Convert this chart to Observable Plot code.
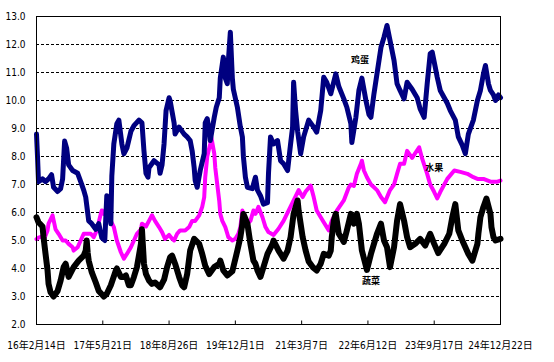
<!DOCTYPE html>
<html><head><meta charset="utf-8">
<script src="https://cdn.jsdelivr.net/npm/d3@7"></script>
<script src="https://cdn.jsdelivr.net/npm/@observablehq/plot@0.6"></script>
<style>html,body{margin:0;padding:0;background:#fff} svg{display:block}</style>
</head><body><div id="chart"></div>
<script>
// x positions are weeks since 2016-02-14 (category axis, tick every 66 weeks)
const xTickWeeks = [0, 66, 132, 198, 264, 330, 396, 462];
const xTickLabels = ["16年2月14日", "17年5月21日", "18年8月26日", "19年12月1日", "21年3月7日", "22年6月12日", "23年9月17日", "24年12月22日"];
const yTicks = [2,3,4,5,6,7,8,9,10,11,12,13];
const gridValues = [3,4,5,6,7,8,9,10,11,12];

// 鸡蛋 [week, price]
const eggSeries = [[0,8.8],[1,8.0],[2,7.1],[6,7.2],[9,7.1],[12,7.2],[15,7.35],[17,6.9],[21,6.75],[24,6.85],[26,7.2],[28,8.55],[30,8.3],[32,7.7],[36,7.5],[41,7.4],[44,7.1],[47,6.8],[49,6.55],[52,5.7],[55,5.6],[59,5.4],[62,5.6],[65,5.1],[68,5.0],[70,6.6],[72,6.3],[74,5.6],[75,7.3],[77,8.45],[80,9.17],[82,9.3],[85,8.45],[87,8.1],[90,8.3],[94,8.9],[97,9.1],[102,9.3],[105,9.2],[107,8.2],[109,7.4],[111,7.26],[112,7.6],[117,7.85],[122,7.7],[123,7.4],[125,7.7],[127,8.45],[129,9.64],[132,10.1],[133,10.0],[135,9.6],[137,9.2],[138,8.8],[142,9.05],[147,8.8],[150,8.7],[153,8.57],[155,8.2],[157,7.6],[158,7.14],[160,6.9],[163,7.5],[167,8.1],[168,9.2],[170,9.35],[172,8.9],[173,8.57],[177,9.4],[179,9.76],[182,10.1],[183,10.8],[185,11.3],[186,11.55],[188,10.8],[190,10.6],[191,11.4],[193,12.44],[195,10.8],[196,10.4],[200,9.76],[203,9.05],[205,8.7],[206,8.0],[208,7.26],[210,6.9],[215,6.85],[216,7.0],[218,7.26],[220,6.8],[223,6.6],[226,6.3],[230,6.35],[231,7.4],[233,8.7],[236,8.45],[240,8.57],[243,7.85],[246,7.74],[250,7.5],[253,8.45],[255,9.05],[256,10.65],[258,9.64],[260,8.9],[263,8.1],[266,8.7],[271,9.3],[276,9.05],[279,8.87],[283,9.64],[286,10.83],[289,10.65],[293,10.24],[298,10.95],[301,10.5],[306,10.06],[309,9.76],[313,9.17],[314,8.5],[318,9.4],[321,10.36],[324,10.8],[328,10.0],[331,9.5],[333,9.4],[336,10.24],[339,10.95],[343,11.9],[346,12.26],[349,12.68],[352,12.14],[356,11.43],[359,10.6],[362,10.36],[366,10.06],[369,10.65],[374,10.4],[379,10.1],[382,9.7],[386,9.4],[389,10.6],[392,11.67],[394,11.73],[397,11.2],[399,10.83],[402,10.36],[406,10.1],[409,9.9],[412,9.64],[417,9.3],[420,8.7],[424,8.4],[427,8.1],[430,8.8],[434,9.2],[435,9.3],[439,10.0],[442,10.36],[445,10.95],[447,11.25],[450,10.6],[452,10.36],[455,10.2],[457,10.0],[460,10.2],[462,10.1]];

// 水果 [week, price]
const fruitSeries = [[0,5.05],[2,5.1],[6,5.15],[7,5.0],[11,5.36],[12,5.6],[16,5.9],[19,5.4],[22,5.24],[26,5.0],[29,5.0],[32,4.88],[36,4.76],[37,4.64],[41,4.76],[44,5.0],[47,5.24],[50,5.24],[54,5.24],[57,5.12],[60,5.36],[64,5.95],[65,6.07],[67,5.95],[70,6.2],[74,5.7],[77,5.48],[80,5.0],[84,4.58],[87,4.35],[90,4.52],[94,4.76],[97,5.0],[100,5.24],[104,5.4],[105,5.6],[109,5.5],[112,5.7],[115,5.9],[118,5.7],[122,5.48],[125,5.3],[128,5.06],[132,5.2],[135,5.06],[137,5.0],[140,5.24],[143,5.36],[148,5.36],[152,5.48],[155,5.7],[158,5.7],[162,5.9],[163,6.0],[165,6.2],[167,6.55],[168,7.26],[170,8.0],[173,8.45],[174,8.7],[177,8.1],[178,7.6],[180,7.0],[182,6.4],[183,5.95],[185,5.7],[188,5.48],[190,5.24],[191,5.12],[195,5.0],[198,5.06],[201,5.24],[203,5.48],[205,6.07],[208,5.7],[210,5.6],[213,5.7],[216,6.07],[218,5.95],[221,6.2],[225,5.83],[228,5.48],[231,5.3],[236,5.2],[241,5.42],[246,5.7],[251,6.07],[256,6.43],[261,6.8],[265,6.55],[268,6.75],[273,6.96],[276,6.55],[279,6.07],[283,5.83],[286,5.65],[291,5.36],[294,5.7],[299,6.07],[306,6.43],[311,6.9],[313,7.0],[316,6.95],[319,7.38],[323,7.74],[324,7.85],[326,7.5],[329,7.26],[333,7.0],[336,6.9],[339,6.8],[343,6.55],[347,6.37],[352,6.8],[356,7.0],[359,7.38],[362,7.74],[366,7.74],[369,8.2],[374,7.95],[381,8.33],[384,7.92],[389,7.38],[392,7.0],[396,6.73],[399,6.5],[402,6.73],[409,7.2],[416,7.5],[422,7.45],[429,7.38],[435,7.26],[439,7.2],[445,7.2],[452,7.1],[459,7.1],[462,7.14]];

// 蔬菜 [week, price]
const vegSeries = [[0,5.83],[2,5.65],[6,5.5],[7,5.12],[9,4.52],[11,3.93],[12,3.45],[14,3.15],[17,3.0],[21,3.2],[24,3.57],[27,4.05],[29,4.17],[32,3.7],[37,4.05],[42,4.28],[47,4.46],[49,4.64],[50,5.0],[51,4.55],[52,4.28],[55,3.87],[59,3.5],[62,3.2],[67,3.0],[70,3.1],[74,3.4],[79,3.93],[80,4.0],[84,3.7],[87,3.7],[89,3.75],[92,3.4],[94,3.4],[97,3.7],[100,4.05],[104,4.88],[105,5.4],[107,4.17],[109,3.8],[112,3.57],[115,3.45],[118,3.5],[123,3.33],[127,3.6],[130,4.05],[133,4.4],[135,4.46],[138,4.17],[142,3.7],[145,3.4],[147,3.33],[150,3.8],[153,4.64],[157,5.06],[162,4.88],[165,4.52],[168,4.1],[172,3.8],[177,4.05],[182,4.17],[183,4.28],[186,3.93],[190,3.75],[195,3.9],[196,4.05],[200,4.64],[203,5.12],[205,5.6],[206,5.95],[210,5.6],[213,4.88],[216,4.28],[218,4.17],[220,3.93],[223,3.7],[226,4.05],[230,4.52],[235,4.88],[236,5.0],[241,4.64],[246,4.35],[250,4.64],[253,5.12],[256,5.95],[260,6.43],[261,6.07],[265,5.12],[268,4.64],[271,4.25],[275,4.05],[279,3.93],[283,4.17],[286,4.52],[291,4.46],[293,4.64],[294,5.12],[296,5.7],[298,5.95],[301,5.24],[306,4.95],[309,5.36],[313,5.95],[316,5.6],[319,5.95],[321,5.6],[324,4.64],[329,3.95],[333,4.52],[336,4.88],[339,5.24],[343,5.6],[346,5.0],[349,4.76],[352,4.05],[356,4.76],[359,5.7],[362,6.3],[366,5.7],[369,5.12],[372,4.76],[377,4.88],[382,5.06],[387,4.82],[392,5.24],[396,4.88],[400,4.55],[406,4.88],[411,5.24],[414,5.83],[417,6.3],[420,5.36],[424,5.0],[427,4.76],[430,4.52],[434,4.28],[439,4.88],[440,5.24],[442,5.83],[445,6.2],[448,6.5],[452,5.95],[453,5.48],[455,5.12],[457,5.0],[462,5.06]];

const seriesNames = ["鸡蛋", "水果", "蔬菜"];
const seriesColors = ["#000080", "#ff00ff", "#000000"];
const labelWeeks = [322, 396, 333];
const labelValues = [11.45, 7.6, 3.55];

const toRows = s => s.map(([w, v]) => ({w, v}));
const labels = seriesNames.map((name, i) => ({name, w: labelWeeks[i], v: labelValues[i]}));

const font = "'Liberation Sans Narrow', 'DejaVu Sans Condensed', 'Noto Sans CJK JP', sans-serif";

const chart = Plot.plot({
  width: 554, height: 362,
  marginLeft: 36, marginRight: 54, marginTop: 16, marginBottom: 38,
  x: {type: "linear", domain: [0, 462], axis: null},
  y: {domain: [2, 13], axis: null},
  style: {background: "white", fontFamily: font},
  marks: [
    Plot.ruleY(gridValues, {stroke: "#000", strokeWidth: 1, strokeDasharray: "3,2"}),
    Plot.line(toRows(fruitSeries), {x: "w", y: "v", stroke: seriesColors[1], strokeWidth: 4, strokeLinejoin: "round"}),
    Plot.line(toRows(eggSeries), {x: "w", y: "v", stroke: seriesColors[0], strokeWidth: 5, strokeLinejoin: "round"}),
    Plot.line(toRows(vegSeries), {x: "w", y: "v", stroke: seriesColors[2], strokeWidth: 6, strokeLinejoin: "round"}),
    Plot.frame({stroke: "#000", strokeWidth: 1}),
    Plot.ruleX(xTickWeeks, {y1: 2, y2: 2.125, stroke: "#000"}),
    Plot.axisY(yTicks, {label: null, tickSize: 0, tickPadding: 11, tickFormat: d => d.toFixed(1), fontSize: 10, fontFamily: font, fill: "#000"}),
    Plot.axisX(xTickWeeks, {label: null, tickSize: 0, tickPadding: 17, tickFormat: d => xTickLabels[xTickWeeks.indexOf(d)], fontSize: 10, fontFamily: font, fill: "#000"}),
    Plot.text(labels, {x: "w", y: "v", text: "name", fontSize: 9, fontWeight: "bold", fontFamily: "'Noto Sans CJK SC', sans-serif", fill: "#000"})
  ]
});
document.getElementById("chart").appendChild(chart);
</script>
</body></html>
